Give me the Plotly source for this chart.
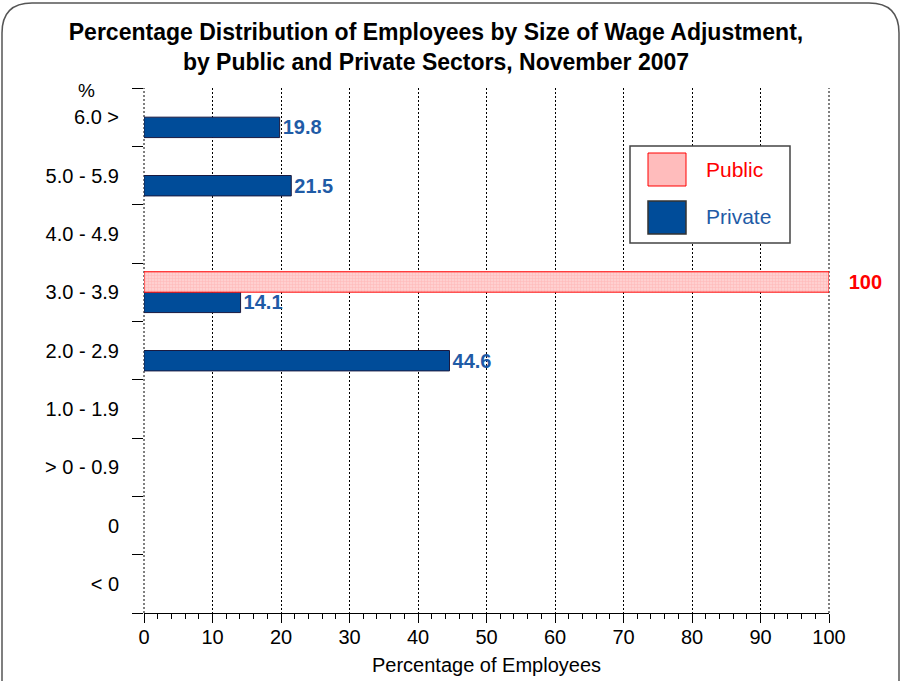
import plotly.graph_objects as go

categories = ["< 0", "0", "> 0 - 0.9", "1.0 - 1.9", "2.0 - 2.9",
              "3.0 - 3.9", "4.0 - 4.9", "5.0 - 5.9", "6.0 >"]
public_values = [None, None, None, None, None, 100, None, None, None]
private_values = [None, None, None, None, 44.6, 14.1, None, 21.5, 19.8]
x_ticks = [0, 10, 20, 30, 40, 50, 60, 70, 80, 90, 100]

W, H = 902, 681
L, R, T, B = 144, 829, 88, 613
PW, PH = R - L, B - T


def px(x):
    return (x - L) / PW


def py(y):
    return (B - y) / PH


fig = go.Figure()
fig.add_trace(go.Bar(
    y=categories, x=private_values, orientation="h", name="Private",
    marker=dict(color="#004C99", line=dict(color="#1a1a40", width=1)),
    texttemplate="<b>%{x}</b>", textposition="outside", constraintext="none",
    textfont=dict(color="#1F5BA6", size=20, family="Liberation Sans"),
    cliponaxis=False, showlegend=False,
))
fig.add_trace(go.Bar(
    y=categories, x=public_values, orientation="h", name="Public",
    marker=dict(color="#ffc4c4", line=dict(color="#ff0000", width=1),
                pattern=dict(shape="+", size=3, solidity=0.3,
                             fgcolor="#ff9c9c", bgcolor="#ffd0d0")),
    texttemplate="   <b>%{x}</b>", textposition="outside", constraintext="none",
    textfont=dict(color="#ff0000", size=20, family="Liberation Sans"),
    cliponaxis=False, showlegend=False,
))

shapes = []
# dotted edge gridlines at 0 and 100 (plotly hides grid at range edges)
for xe in (0, 1):
    shapes.append(dict(type="line", xref="paper", yref="paper", x0=xe, x1=xe,
                       y0=0, y1=1, layer="below",
                       line=dict(color="black", width=1, dash="2px,2px")))
# rounded outer border
r = 30
x0, x1, y0, y1 = 2, 899, 3, 700
path = (f"M {px(x0)},{py(y1)} L {px(x0)},{py(y0 + r)} "
        f"Q {px(x0)},{py(y0)} {px(x0 + r)},{py(y0)} "
        f"L {px(x1 - r)},{py(y0)} Q {px(x1)},{py(y0)} {px(x1)},{py(y0 + r)} "
        f"L {px(x1)},{py(y1)}")
shapes.append(dict(type="path", xref="paper", yref="paper", path=path,
                   line=dict(color="#555555", width=1.5)))
# legend box
shapes.append(dict(type="rect", xref="paper", yref="paper",
                   x0=px(630), x1=px(790), y0=py(243), y1=py(146),
                   line=dict(color="#444444", width=1.5), fillcolor="white"))
shapes.append(dict(type="rect", xref="paper", yref="paper",
                   x0=px(648), x1=px(686), y0=py(186), y1=py(153),
                   line=dict(color="#ff0000", width=1), fillcolor="#ffbcbc"))
shapes.append(dict(type="rect", xref="paper", yref="paper",
                   x0=px(648), x1=px(686), y0=py(234), y1=py(201),
                   line=dict(color="#333333", width=1.5), fillcolor="#004C99"))

annotations = [
    dict(text="Public", x=px(704), y=py(169), xref="paper", yref="paper",
         xanchor="left", yanchor="middle", showarrow=False,
         font=dict(color="#ff0000", size=21)),
    dict(text="Private", x=px(704), y=py(216), xref="paper", yref="paper",
         xanchor="left", yanchor="middle", showarrow=False,
         font=dict(color="#1F5BA6", size=21)),
    dict(text="%", x=px(86), y=py(90), xref="paper", yref="paper",
         xanchor="center", yanchor="middle", showarrow=False,
         font=dict(color="black", size=19)),
]

fig.update_layout(
    width=W, height=H,
    margin=dict(l=L, r=W - R, t=T, b=H - B),
    paper_bgcolor="white", plot_bgcolor="white",
    font=dict(family="Liberation Sans, Arial, sans-serif", color="black", size=20),
    title=dict(
        text="<b>Percentage Distribution of Employees by Size of Wage Adjustment,<br>"
             "by Public and Private Sectors, November 2007</b>",
        x=436 / W, xanchor="center", y=1 - 40 / H, yanchor="middle",
        font=dict(size=23, color="black")),
    barmode="group", bargap=0.3, bargroupgap=0,
    shapes=shapes, annotations=annotations,
    xaxis=dict(
        range=[0, 100], tickvals=x_ticks, ticks="outside", ticklen=9,
        tickcolor="black", showline=True, linecolor="black", linewidth=1,
        showgrid=True, gridcolor="black", griddash="2px,2px", gridwidth=1,
        zeroline=False, automargin=False, ticklabelstandoff=-3,
        minor=dict(dtick=2, ticks="outside", ticklen=5, tickcolor="black",
                   showgrid=False),
        title=dict(text="Percentage of Employees", standoff=10,
                   font=dict(size=20)),
        tickfont=dict(size=20),
    ),
    yaxis=dict(
        type="category", categoryorder="array", categoryarray=categories,
        tickson="boundaries", ticks="outside", ticklen=11, tickcolor="black",
        showline=False, showgrid=False, automargin=False,
        ticklabelstandoff=24,
        tickfont=dict(size=20),
    ),
)

fig.write_html("out.html")
